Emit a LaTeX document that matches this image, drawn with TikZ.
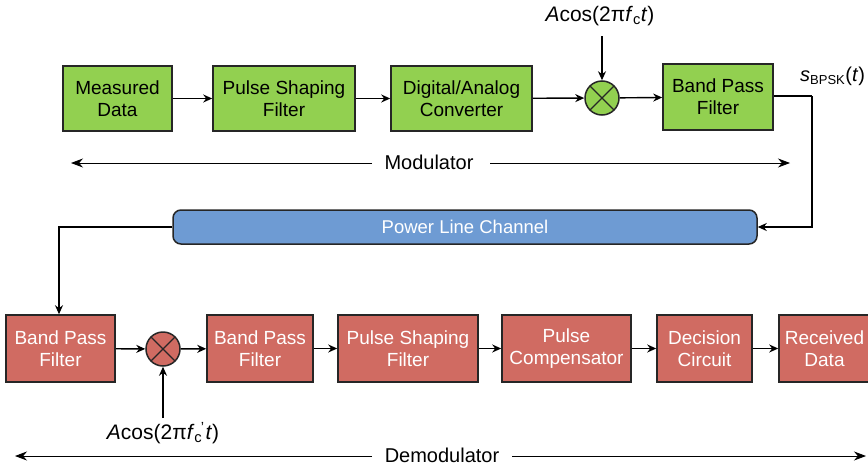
\documentclass[tikz,border=0pt]{standalone}
\usepackage{fontspec}
\setmainfont{Liberation Sans}
\usetikzlibrary{arrows.meta}
\definecolor{modgreen}{HTML}{92D050}
\definecolor{demred}{HTML}{D06B62}
\definecolor{chanblue}{HTML}{6E9BD3}
\definecolor{edge}{HTML}{262626}
\tikzset{
  blk/.style={draw=edge, line width=1.6pt, inner sep=0pt, align=center,
    font=\fontsize{19}{22}\selectfont},
  gblk/.style={blk, fill=modgreen, text=black},
  rblk/.style={blk, fill=demred, text=white},
  mixer/.style={circle, draw=edge, line width=1.5pt, minimum size=34pt, inner sep=0pt,
    path picture={\draw[edge, line width=1.3pt]
      (path picture bounding box.north west) -- (path picture bounding box.south east)
      (path picture bounding box.north east) -- (path picture bounding box.south west);}},
  conn/.style={draw=black, line width=1.4pt, -{Stealth[length=9pt,width=8pt]}},
  span/.style={draw=black, line width=0.8pt, -{Stealth[length=12pt,width=9pt]}},
  lbl/.style={font=\fontsize{20}{24}\selectfont, inner sep=0pt}
}
\begin{document}
\begin{tikzpicture}[x=1pt,y=-1pt]
\useasboundingbox (0,0) rectangle (868,466);

% modulator chain
\node[gblk, minimum width=109pt, minimum height=65pt] (md) at (117.5,98.5) {Measured\\Data};
\node[gblk, minimum width=142pt, minimum height=65pt] (psf) at (284,98.5) {Pulse Shaping\\Filter};
\node[gblk, minimum width=141pt, minimum height=65pt] (dac) at (461.5,98.5) {Digital/Analog\\Converter};
\node[mixer, fill=modgreen] (mx1) at (602,98) {};
\node[gblk, minimum width=110pt, minimum height=66pt] (bpf) at (718,97) {Band Pass\\Filter};
\node[lbl, font=\fontsize{21}{24}\selectfont] (carrier1) at (600,16) {\textit{A}cos(2π\textit{f}\textsubscript{c}\textit{t})};
\node[lbl, anchor=west] (sbpsk) at (800,76) {\textit{s}\textsubscript{\fontsize{13}{14}\selectfont BPSK}(\textit{t})};

\draw[conn] (md) -- (psf);
\draw[conn] (psf) -- (dac);
\draw[conn] (dac) -- (mx1);
\draw[conn] (mx1) -- (bpf);
\draw[conn] (mx1.north |- 0,36) -- (mx1.north);

% channel
\node[draw=edge, line width=1.5pt, fill=chanblue, rounded corners=8pt,
  minimum width=584pt, minimum height=34pt, inner sep=0pt, text=white,
  font=\fontsize{18.5}{22}\selectfont] (ch) at (465,227) {Power Line Channel};

% demodulator chain
\node[rblk, minimum width=109pt, minimum height=67pt] (bpf1) at (60.5,348.5) {Band Pass\\Filter};
\node[mixer, fill=demred] (mx2) at (163,349) {};
\node[rblk, minimum width=106pt, minimum height=67pt] (bpf2) at (260,348.5) {Band Pass\\Filter};
\node[rblk, minimum width=140pt, minimum height=67pt] (psf2) at (408,348.5) {Pulse Shaping\\Filter};
\node[rblk, minimum width=129pt, minimum height=67pt] (pc) at (566.5,348.5) {Pulse\\Compensator};
\node[rblk, minimum width=95pt, minimum height=67pt, text width=90pt] (rd) at (826.5,348.5) {\hspace*{-4pt}Received\\\hspace*{-4pt}Data};
\node[rblk, minimum width=95pt, minimum height=67pt] (dc) at (704.5,348.5) {Decision\\Circuit};
\node[lbl, font=\fontsize{21}{24}\selectfont] (carrier2) at (163,433) {\textit{A}cos(2π\textit{f}\textsubscript{c}\kern-1.5pt\textsuperscript{'}\kern1pt\textit{t})};

\coordinate (tap) at (812,96);
\draw[line width=1.4pt] (bpf.east |- tap) -- (tap);
\draw[conn] (tap) |- (ch.east);
\draw[conn] (ch.west) -| (bpf1.north -| 59,0);
\draw[conn] (bpf1) -- (mx2);
\draw[conn] (mx2) -- (bpf2);
\draw[conn] (bpf2) -- (psf2);
\draw[conn] (psf2) -- (pc);
\draw[conn] (pc) -- (dc);
\draw[conn] (dc) -- (rd);
\draw[conn] (mx2.south |- 0,418) -- (mx2.south);

% extents of the two halves
\node[lbl] (modtxt) at (429,162) {Modulator};
\coordinate (modL) at (71,163);
\coordinate (modR) at (790,163);
\draw[span] (modtxt.west -| 372,0) ++(0,1) -- (modL);
\draw[span] (modtxt.east -| 490,0) ++(0,1) -- (modR);

\node[lbl] (demtxt) at (442,455) {Demodulator};
\coordinate (demL) at (15,456);
\coordinate (demR) at (866,456);
\draw[span] (demtxt.west -| 372,0) ++(0,1) -- (demL);
\draw[span] (demtxt.east -| 512,0) ++(0,1) -- (demR);
\end{tikzpicture}
\end{document}
